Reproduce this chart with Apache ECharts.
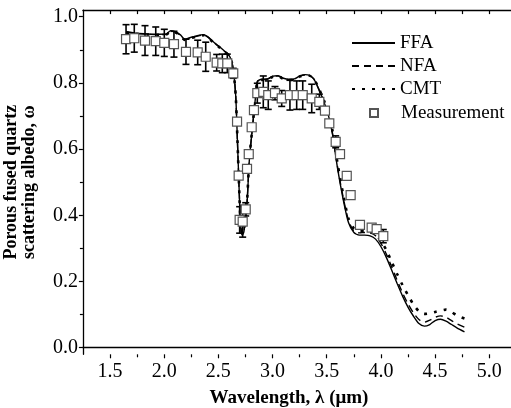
<!DOCTYPE html>
<html>
<head>
<meta charset="utf-8">
<script src="https://cdn.jsdelivr.net/npm/echarts@6/dist/echarts.min.js"></script>
<style>html,body{margin:0;padding:0;background:#fff}#c{width:511px;height:408px}</style>
</head>
<body>
<div id="c"></div>
<script>
// Wavelength grid for model curves (µm)
const wl = [1.65, 1.75, 1.85, 1.95, 2.02, 2.06, 2.1, 2.15, 2.19, 2.25, 2.3, 2.36, 2.4, 2.45, 2.5, 2.55, 2.59, 2.62, 2.64, 2.66, 2.675, 2.69, 2.705, 2.72, 2.735, 2.75, 2.765, 2.785, 2.815, 2.84, 2.86, 2.9, 2.95, 3.0, 3.05, 3.1, 3.15, 3.2, 3.25, 3.3, 3.34, 3.38, 3.42, 3.47, 3.51, 3.55, 3.6, 3.65, 3.7, 3.75, 3.8, 3.85, 3.9, 3.95, 4.0, 4.05, 4.1, 4.15, 4.2, 4.25, 4.3, 4.35, 4.4, 4.45, 4.5, 4.55, 4.6, 4.65, 4.7, 4.77];
const ffa = [0.955, 0.950, 0.948, 0.947, 0.948, 0.958, 0.955, 0.945, 0.932, 0.938, 0.942, 0.946, 0.940, 0.925, 0.912, 0.898, 0.887, 0.868, 0.835, 0.76, 0.63, 0.49, 0.37, 0.34, 0.35, 0.39, 0.44, 0.565, 0.668, 0.75, 0.805, 0.811, 0.812, 0.82, 0.822, 0.814, 0.811, 0.812, 0.821, 0.825, 0.823, 0.812, 0.785, 0.745, 0.708, 0.65, 0.54, 0.45, 0.378, 0.348, 0.34, 0.34, 0.338, 0.328, 0.305, 0.272, 0.233, 0.193, 0.155, 0.122, 0.095, 0.073, 0.065, 0.07, 0.082, 0.086, 0.08, 0.07, 0.06, 0.048];
const nfa = [0.953, 0.949, 0.947, 0.946, 0.947, 0.956, 0.954, 0.944, 0.931, 0.937, 0.941, 0.945, 0.939, 0.924, 0.911, 0.897, 0.886, 0.867, 0.834, 0.76, 0.63, 0.49, 0.372, 0.342, 0.352, 0.392, 0.443, 0.566, 0.668, 0.75, 0.804, 0.81, 0.811, 0.819, 0.821, 0.813, 0.81, 0.811, 0.82, 0.824, 0.822, 0.812, 0.786, 0.747, 0.71, 0.653, 0.545, 0.456, 0.385, 0.352, 0.347, 0.348, 0.347, 0.338, 0.315, 0.282, 0.243, 0.203, 0.165, 0.132, 0.105, 0.085, 0.077, 0.083, 0.092, 0.096, 0.092, 0.082, 0.072, 0.062];
const cmt = [0.952, 0.948, 0.946, 0.945, 0.946, 0.955, 0.953, 0.943, 0.930, 0.936, 0.940, 0.944, 0.938, 0.923, 0.910, 0.896, 0.885, 0.866, 0.833, 0.76, 0.635, 0.495, 0.375, 0.345, 0.355, 0.395, 0.446, 0.568, 0.67, 0.75, 0.803, 0.809, 0.81, 0.818, 0.82, 0.812, 0.809, 0.81, 0.819, 0.823, 0.822, 0.813, 0.788, 0.75, 0.715, 0.66, 0.555, 0.465, 0.39, 0.36, 0.352, 0.352, 0.35, 0.342, 0.322, 0.295, 0.258, 0.222, 0.188, 0.158, 0.13, 0.11, 0.102, 0.104, 0.108, 0.112, 0.115, 0.108, 0.097, 0.088];

// Measurement points with error bar half-widths
const measWl  = [1.648, 1.724, 1.823, 1.922, 2.001, 2.09, 2.201, 2.309, 2.383, 2.484, 2.536, 2.582, 2.637, 2.672, 2.687, 2.696, 2.724, 2.752, 2.764, 2.78, 2.807, 2.828, 2.859, 2.914, 2.96, 3.022, 3.084, 3.16, 3.222, 3.278, 3.361, 3.431, 3.483, 3.523, 3.582, 3.622, 3.684, 3.72, 3.806, 3.914, 3.96, 4.021];
const measVal = [0.932, 0.935, 0.928, 0.926, 0.921, 0.917, 0.894, 0.892, 0.879, 0.861, 0.859, 0.859, 0.829, 0.683, 0.520, 0.386, 0.381, 0.418, 0.540, 0.585, 0.666, 0.718, 0.769, 0.773, 0.763, 0.769, 0.753, 0.763, 0.763, 0.763, 0.753, 0.743, 0.716, 0.678, 0.622, 0.585, 0.519, 0.461, 0.371, 0.363, 0.358, 0.337];
const measErr = [0.044, 0.042, 0.045, 0.043, 0.041, 0.039, 0.038, 0.037, 0.044, 0.025, 0.028, 0.028, 0.015, 0.01, 0, 0.04, 0.047, 0.02, 0.01, 0.01, 0.01, 0.01, 0.03, 0.048, 0.043, 0.02, 0.024, 0.045, 0.043, 0.043, 0.043, 0.023, 0.01, 0.01, 0.018, 0.01, 0, 0, 0.005, 0, 0.005, 0.02];

const serif = "'Liberation Serif', 'Times New Roman', serif";
const chart = echarts.init(document.getElementById('c'), null, {renderer: 'canvas'});
const pair = (xs, ys) => xs.map((x, i) => [x, ys[i]]);
const clear = 'rgba(0,0,0,0)';

chart.setOption({
  animation: false,
  backgroundColor: '#fff',
  grid: [
    {left: 82.9, right: -5.5, top: 10.1, bottom: 53.7, outerBoundsMode: 'none', containLabel: false},   // data + frame
    {left: 82.9, right: 15.9, top: 16.7, bottom: 60.3, outerBoundsMode: 'none', containLabel: false},   // y ticks (0..1)
    {left: 110, right: 21.7, top: 10.1, bottom: 53.7, outerBoundsMode: 'none', containLabel: false}     // x ticks (1.5..5.0)
  ],
  xAxis: [
    {gridIndex: 0, type: 'value', min: 1.25, max: 5.25, position: 'bottom',
     axisLine: {show: true, lineStyle: {color: '#000', width: 1.3}},
     axisTick: {show: false}, axisLabel: {show: false}, splitLine: {show: false}},
    {gridIndex: 0, type: 'value', min: 1.25, max: 5.25, position: 'top',
     axisLine: {show: true, lineStyle: {color: '#000', width: 1.3}},
     axisTick: {show: false}, axisLabel: {show: false}, splitLine: {show: false}},
    {gridIndex: 1, type: 'value', min: 0, max: 1,
     axisLine: {show: false}, axisTick: {show: false}, axisLabel: {show: false}, splitLine: {show: false},
     name: 'Wavelength, λ (μm)', nameLocation: 'middle', nameGap: 41,
     nameTextStyle: {fontFamily: serif, fontWeight: 'bold', fontSize: 19, color: '#000'}},
    {gridIndex: 2, type: 'value', min: 1.5, max: 5.0, interval: 0.5, position: 'bottom',
     axisLine: {show: false},
     axisTick: {show: true, inside: false, length: 4, lineStyle: {color: '#000', width: 1.2}},
     minorTick: {show: true, splitNumber: 2, length: 3, lineStyle: {color: '#000', width: 1.2}},
     axisLabel: {show: true, margin: 7, fontFamily: serif, fontSize: 20, color: '#000',
                 formatter: v => v.toFixed(1)},
     splitLine: {show: false}},
    {gridIndex: 2, type: 'value', min: 1.5, max: 5.0, interval: 0.25, position: 'top',
     axisLine: {show: false},
     axisTick: {show: true, inside: true, length: 4, lineStyle: {color: '#000', width: 1.2}},
     axisLabel: {show: false}, splitLine: {show: false}}
  ],
  yAxis: [
    {gridIndex: 0, type: 'value', min: -0.02, max: 1.02, position: 'left',
     axisLine: {show: true, lineStyle: {color: '#000', width: 1.3}},
     axisTick: {show: false}, axisLabel: {show: false}, splitLine: {show: false},
     name: 'Porous fused quartz\nscattering albedo, ω', nameLocation: 'middle', nameRotate: 90, nameGap: 45,
     nameTextStyle: {fontFamily: serif, fontWeight: 'bold', fontSize: 18, lineHeight: 18, color: '#000'}},
    {gridIndex: 1, type: 'value', min: 0, max: 1, interval: 0.2, position: 'left',
     axisLine: {show: false},
     axisTick: {show: true, inside: false, length: 4, lineStyle: {color: '#000', width: 1.2}},
     minorTick: {show: true, splitNumber: 2, length: 3, lineStyle: {color: '#000', width: 1.2}},
     axisLabel: {show: true, margin: 5, fontFamily: serif, fontSize: 20, color: '#000',
                 formatter: v => v.toFixed(1)},
     splitLine: {show: false}},
    {gridIndex: 2, type: 'value', min: 0, max: 1, show: false}
  ],
  legend: [
    {data: ['FFA', 'NFA', 'CMT'], orient: 'vertical', left: 351, top: 31.5, padding: 0,
     itemWidth: 43, itemHeight: 14, itemGap: 0, selectedMode: false,
     itemStyle: {color: clear, borderColor: clear, borderWidth: 0, opacity: 0},
     textStyle: {fontFamily: serif, fontSize: 19, lineHeight: 23, color: '#000'}},
    {data: ['Measurement'], orient: 'vertical', left: 369, top: 101.5, padding: 0,
     itemWidth: 8, itemHeight: 8, itemGap: 0, selectedMode: false,
     textStyle: {fontFamily: serif, fontSize: 19, lineHeight: 23, color: '#000', padding: [0, 0, 0, 18]}}
  ],
  series: [
    {name: 'FFA', type: 'line', xAxisIndex: 0, yAxisIndex: 0, data: pair(wl, ffa),
     showSymbol: false, symbol: 'none', smooth: 0.25, z: 3,
     lineStyle: {color: '#000', width: 1.4, type: 'solid'}, itemStyle: {color: '#000'}},
    {name: 'NFA', type: 'line', xAxisIndex: 0, yAxisIndex: 0, data: pair(wl, nfa),
     showSymbol: false, symbol: 'none', smooth: 0.25, z: 3,
     lineStyle: {color: '#000', width: 1.4, type: [7, 5]}, itemStyle: {color: '#000'}},
    {name: 'CMT', type: 'line', xAxisIndex: 0, yAxisIndex: 0, data: pair(wl, cmt),
     showSymbol: false, symbol: 'none', smooth: 0.25, z: 3,
     lineStyle: {color: '#000', width: 2.6, type: [3, 7]}, itemStyle: {color: '#000'}},
    {name: 'errbars', type: 'custom', xAxisIndex: 0, yAxisIndex: 0, z: 4,
     data: measWl.map((w, i) => [w, measVal[i], measErr[i]]),
     encode: {x: 0, y: 1},
     renderItem: function (params, api) {
       const x = api.value(0), y = api.value(1), e = api.value(2);
       if (!e) return null;
       const t = api.coord([x, y + e]);
       const b = api.coord([x, y - e]);
       const hw = 3.5;
       const st = {stroke: '#000', lineWidth: 1.6};
       return {type: 'group', children: [
         {type: 'line', shape: {x1: t[0], y1: t[1], x2: b[0], y2: b[1]}, style: st},
         {type: 'line', shape: {x1: t[0] - hw, y1: t[1], x2: t[0] + hw, y2: t[1]}, style: st},
         {type: 'line', shape: {x1: b[0] - hw, y1: b[1], x2: b[0] + hw, y2: b[1]}, style: st}
       ]};
     }},
    {name: 'Measurement', type: 'scatter', xAxisIndex: 0, yAxisIndex: 0, z: 5,
     data: pair(measWl, measVal), symbol: 'rect', symbolSize: 9,
     itemStyle: {color: '#fff', borderColor: '#555', borderWidth: 1.2, opacity: 1}}
  ]
});
</script>
</body>
</html>
